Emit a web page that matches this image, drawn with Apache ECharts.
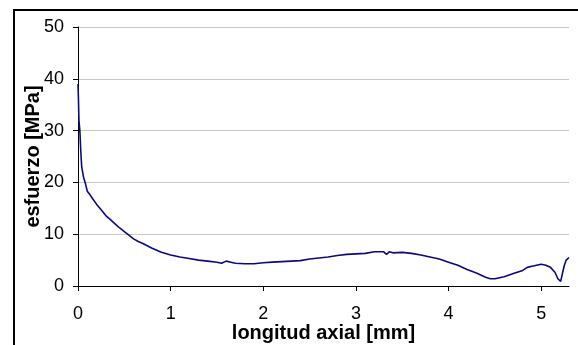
<!DOCTYPE html>
<html>
<head>
<meta charset="utf-8">
<script src="https://cdn.jsdelivr.net/npm/echarts@6/dist/echarts.min.js"></script>
<style>
  html, body { margin: 0; padding: 0; background: #fff; }
  #chart { width: 578px; height: 345px; }
</style>
</head>
<body>
<div id="chart"></div>
<script>
// longitud axial [mm]
const longitud = [0, 0.005, 0.01, 0.015, 0.02, 0.03, 0.04, 0.05, 0.06, 0.08, 0.1, 0.13, 0.16, 0.2, 0.25, 0.3, 0.35, 0.4, 0.45, 0.5,
  0.55, 0.6, 0.65, 0.7, 0.8, 0.9, 1.0, 1.1, 1.2, 1.3, 1.4, 1.5, 1.55, 1.6, 1.65, 1.7, 1.8, 1.9, 2.0, 2.1,
  2.2, 2.3, 2.4, 2.5, 2.6, 2.7, 2.8, 2.9, 3.0, 3.1, 3.2, 3.3, 3.33, 3.36, 3.4, 3.5, 3.6, 3.7, 3.8, 3.9,
  4.0, 4.1, 4.2, 4.3, 4.4, 4.45, 4.5, 4.6, 4.7, 4.8, 4.85, 4.9, 5.0, 5.05, 5.1, 5.15, 5.18, 5.21, 5.23, 5.25,
  5.27, 5.3]
// esfuerzo [MPa]
const esfuerzo = [39, 36, 32, 31, 30, 26, 23, 22, 21, 19.8, 18.3, 17.6, 16.8, 15.8, 14.7, 13.6, 12.8, 12.0, 11.2, 10.5,
  9.8, 9.1, 8.6, 8.2, 7.3, 6.5, 6.0, 5.6, 5.3, 5.0, 4.8, 4.6, 4.4, 4.8, 4.6, 4.4, 4.3, 4.3, 4.5, 4.6,
  4.7, 4.8, 4.9, 5.2, 5.4, 5.6, 5.9, 6.1, 6.2, 6.3, 6.6, 6.6, 6.1, 6.6, 6.4, 6.5, 6.3, 6.0, 5.6, 5.2,
  4.6, 4.0, 3.2, 2.5, 1.7, 1.4, 1.4, 1.8, 2.4, 3.0, 3.6, 3.8, 4.2, 4.0, 3.6, 2.6, 1.4, 0.9, 2.5, 4.0,
  5.0, 5.5]

const font = 'Liberation Sans, Arial, sans-serif'

const chart = echarts.init(document.getElementById('chart'))
const option = {
  animation: false,
  // marco exterior: bordes superior e izquierdo
  graphic: {
    elements: [{
      type: 'polyline',
      shape: { points: [[14, 345], [14, 10], [578, 10]] },
      style: { stroke: '#000', lineWidth: 2, fill: null },
      silent: true,
      z: 100
    }]
  },
  grid: { left: 78, top: 27, right: 9, bottom: 59, outerBoundsMode: 'none' },
  xAxis: {
    type: 'value',
    min: 0,
    max: 5.3,
    interval: 1,
    name: 'longitud axial [mm]',
    nameLocation: 'middle',
    nameGap: 37,
    nameMoveOverlap: false,
    nameTextStyle: { fontFamily: font, fontSize: 20, fontWeight: 'bold', color: '#000' },
    axisLine: { show: true, lineStyle: { color: '#000', width: 1 } },
    axisTick: { show: true, length: 5, lineStyle: { color: '#000' } },
    axisLabel: {
      fontFamily: font, fontSize: 18, color: '#000', margin: 19,
      showMaxLabel: false
    },
    splitLine: { show: false }
  },
  yAxis: {
    type: 'value',
    min: 0,
    max: 50,
    interval: 10,
    name: 'esfuerzo [MPa]',
    nameLocation: 'middle',
    nameGap: 35,
    nameMoveOverlap: false,
    nameTextStyle: { fontFamily: font, fontSize: 20, fontWeight: 'bold', color: '#000' },
    axisLine: { show: true, lineStyle: { color: '#000', width: 1 } },
    axisTick: { show: true, length: 5, lineStyle: { color: '#000' } },
    axisLabel: { fontFamily: font, fontSize: 18, color: '#000', margin: 14 },
    splitLine: { show: true, lineStyle: { color: '#c8c8c8', width: 1 } }
  },
  series: [{
    type: 'line',
    data: longitud.map((x, i) => [x, esfuerzo[i]]),
    showSymbol: false,
    lineStyle: { color: '#0a0a80', width: 1.6 }
  }]
}
chart.setOption(option)
</script>
</body>
</html>
